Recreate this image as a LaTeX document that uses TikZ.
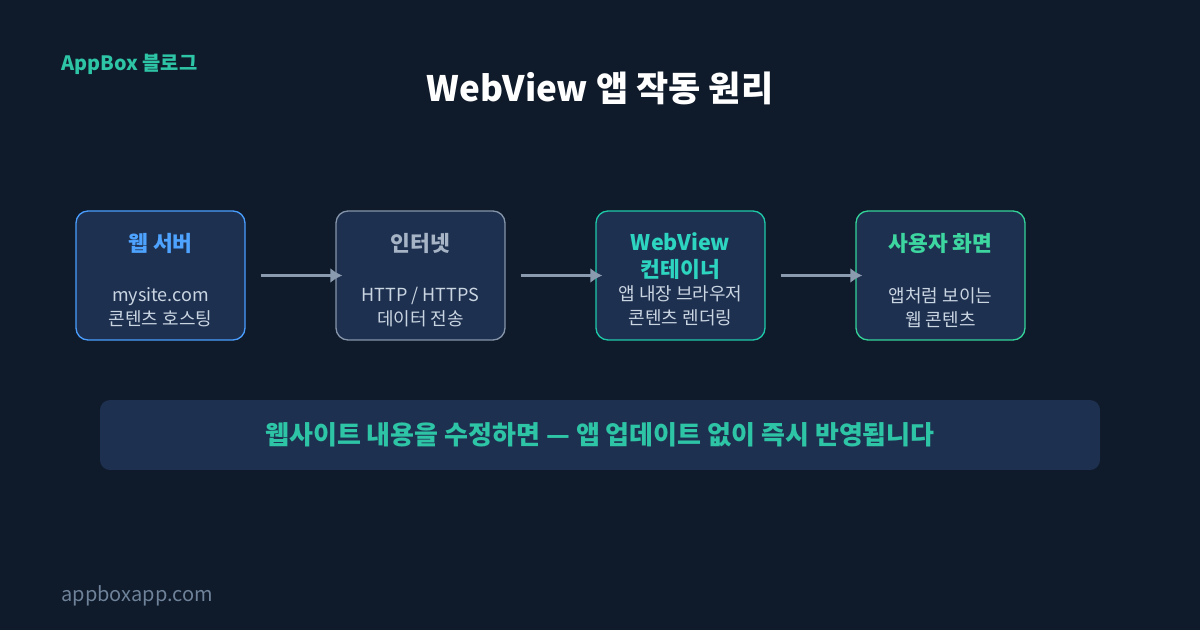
\documentclass[tikz,border=0pt]{standalone}
\usepackage{fontspec}
\setmainfont{Noto Sans CJK KR}
\usetikzlibrary{positioning, arrows.meta}

\definecolor{bgdark}{HTML}{0F1A2A}
\definecolor{boxfill}{HTML}{1E3050}
\definecolor{srvline}{HTML}{4A9EFF}
\definecolor{netline}{HTML}{8595AA}
\definecolor{viewline}{HTML}{1EC9A8}
\definecolor{userline}{HTML}{34D399}
\definecolor{srvtext}{HTML}{4DA3FF}
\definecolor{nettext}{HTML}{A6B4C6}
\definecolor{viewtext}{HTML}{2DD4BF}
\definecolor{usertext}{HTML}{3DD6A0}
\definecolor{subtext}{HTML}{CAD5E2}
\definecolor{arrowgray}{HTML}{8A9BB0}
\definecolor{brandteal}{HTML}{2EC4A6}
\definecolor{footgray}{HTML}{6E8299}

\tikzset{
  stagebox/.style={draw, fill=boxfill, line width=1.3pt, rounded corners=12pt,
    minimum width=169pt, minimum height=129pt},
  stagehead/.style={font=\fontsize{21.5}{27}\selectfont\bfseries, align=center, inner sep=0pt},
  stagesub/.style={font=\fontsize{18}{24}\selectfont, text=subtext, align=center, inner sep=0pt},
  flow/.style={-{Latex[length=12pt,width=15pt]}, color=arrowgray, line width=2.8pt,
    shorten <=15pt, shorten >=-7pt}
}

\begin{document}
\begin{tikzpicture}[x=1pt, y=-1pt, on grid, node distance=260pt]
  \useasboundingbox[fill=bgdark] (0,0) rectangle (1200,630);

  \node[anchor=west, text=brandteal, font=\fontsize{19.8}{24}\selectfont\bfseries] (brand) at (58,64) {AppBox 블로그};
  \node[text=white, font=\fontsize{35}{42}\selectfont\bfseries] (title) at (600,88) {WebView 앱 작동 원리};

  \node[stagebox, draw=srvline] (server) at (160.5,275.5) {};
  \node[stagebox, draw=netline, right=of server] (net) {};
  \node[stagebox, draw=viewline, right=of net] (view) {};
  \node[stagebox, draw=userline, right=of view] (user) {};

  \node[stagehead, text=srvtext] (serverhead) at ([yshift=32pt]server.center) {웹 서버};
  \node[stagesub] (serversub) at ([yshift=-32pt]server.center) {mysite.com\\콘텐츠 호스팅};
  \node[stagehead, text=nettext] (nethead) at ([yshift=32pt]net.center) {인터넷};
  \node[stagesub] (netsub) at ([yshift=-32pt]net.center) {HTTP / HTTPS\\데이터 전송};
  \node[stagehead, text=viewtext] (viewhead) at ([yshift=19pt]view.center) {WebView\\컨테이너};
  \node[stagesub] (viewsub) at ([yshift=-30.5pt]view.center) {앱 내장 브라우저\\콘텐츠 렌더링};
  \node[stagehead, text=usertext] (userhead) at ([yshift=32pt]user.center) {사용자 화면};
  \node[stagesub] (usersub) at ([yshift=-32pt]user.center) {앱처럼 보이는\\웹 콘텐츠};

  \path[flow] (server) edge (net);
  \path[flow] (net) edge (view);
  \path[flow] (view) edge (user);

  \node[fill=boxfill, rounded corners=10pt, minimum width=1000pt, minimum height=70pt] (band) at (600,435) {};
  \node[text=brandteal, font=\fontsize{26}{31}\selectfont\bfseries] (bandtext) at (band.center) {웹사이트 내용을 수정하면 — 앱 업데이트 없이 즉시 반영됩니다};

  \node[anchor=west, text=footgray, font=\fontsize{20}{24}\selectfont] (site) at (58,596) {appboxapp.com};
\end{tikzpicture}
\end{document}
